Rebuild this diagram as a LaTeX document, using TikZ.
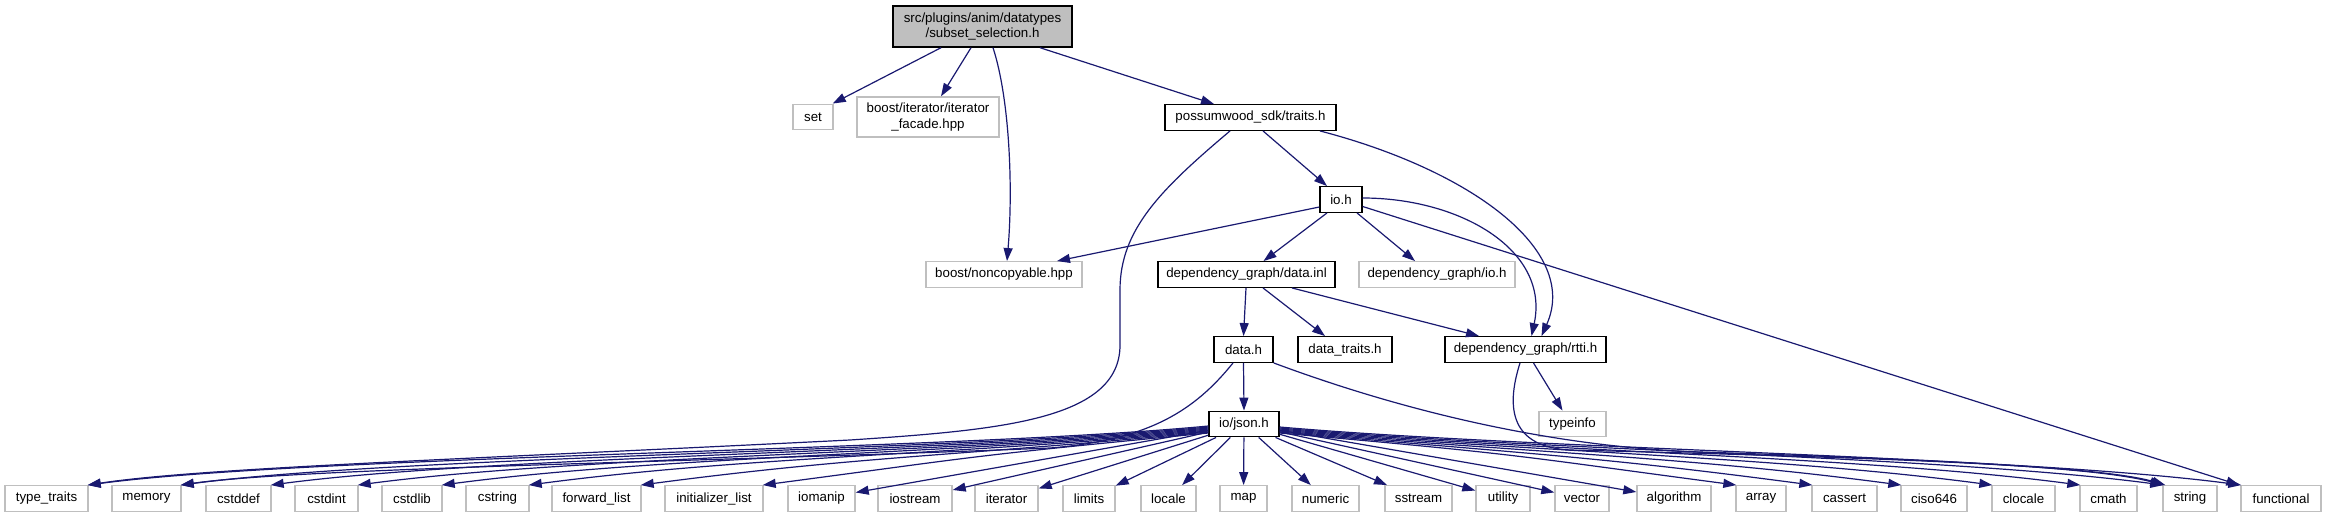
\documentclass[tikz,border=0pt]{standalone}
\usepackage{fontspec}
\setmainfont{Liberation Sans}
\usetikzlibrary{arrows.meta,calc}
\definecolor{edgecol}{HTML}{191970}
\definecolor{extgrey}{HTML}{BFBFBF}
\definecolor{maingrey}{HTML}{BFBFBF}
\newcommand{\nfont}{\fontsize{13.3pt}{15.5pt}\selectfont}
\tikzset{
  box/.style={draw=black, line width=1.4pt, fill=white, inner sep=0pt,
    minimum height=25.5pt, font=\nfont, align=center},
  extbox/.style={box, draw=extgrey},
  edge/.style={draw=edgecol, line width=1.2pt,
    -{Triangle[length=13pt,width=9pt]}},
}
\newcommand{\bnode}[4]{\node[extbox, minimum width=#3pt] (#1) at (#2,498.5) {#4};}
\newcommand{\jleft}[2]{\draw[edge] ([yshift=#2]json.west) .. controls +(-250,24) and +(220,-29) .. ([xshift=-1pt]#1.north east);}
\newcommand{\jright}[2]{\draw[edge] ([yshift=#2]json.east) .. controls +(250,22) and +(-220,-29) .. ([xshift=1pt]#1.north west);}
\begin{document}
\begin{tikzpicture}[x=1pt,y=-1pt]
\useasboundingbox (0,0) rectangle (2325,517);
% upper nodes
\node[box, fill=maingrey, minimum width=179pt, minimum height=41pt] (main) at (982.5,26.5) {src/plugins/anim/datatypes\\/subset\_selection.h};
\node[extbox, minimum width=40pt] (set) at (813,117) {set};
\node[extbox, minimum width=142pt, minimum height=40pt] (iterfac) at (928,117) {boost/iterator/iterator\\\_facade.hpp};
\node[box, minimum width=171pt] (possum) at (1250.5,117.5) {possumwood\_sdk/traits.h};
\node[box, minimum width=42pt] (ioh) at (1341,199.5) {io.h};
\node[extbox, minimum width=156pt] (noncopy) at (1004,274.5) {boost/noncopyable.hpp};
\node[box, minimum width=177pt] (datainl) at (1246.5,274.5) {dependency\_graph/data.inl};
\node[extbox, minimum width=156pt] (dgio) at (1437,274.5) {dependency\_graph/io.h};
\node[box, minimum width=59pt] (datah) at (1243.5,349.5) {data.h};
\node[box, minimum width=94pt] (dtraits) at (1345,349.5) {data\_traits.h};
\node[box, minimum width=161pt] (rtti) at (1525.5,349.5) {dependency\_graph/rtti.h};
\node[extbox, minimum width=67pt] (typeinfo) at (1572.5,424) {typeinfo};
\node[box, minimum width=70pt] (json) at (1244,424) {io/json.h};
% bottom row
\bnode{tt}{46.5}{83}{type\_traits}
\bnode{mem}{146.5}{69}{memory}
\bnode{cstddef}{238.5}{65}{cstddef}
\bnode{cstdint}{326.5}{63}{cstdint}
\bnode{cstdlib}{412}{60}{cstdlib}
\bnode{cstring}{497.5}{63}{cstring}
\bnode{fwdlist}{596.5}{89}{forward\_list}
\bnode{initlist}{714}{98}{initializer\_list}
\bnode{iomanip}{821.5}{67}{iomanip}
\bnode{iostream}{915}{74}{iostream}
\bnode{iterator}{1006.5}{63}{iterator}
\bnode{limits}{1089}{52}{limits}
\bnode{locale}{1168.5}{55}{locale}
\bnode{map}{1243.5}{47}{map}
\bnode{numeric}{1325.5}{67}{numeric}
\bnode{sstream}{1418.5}{67}{sstream}
\bnode{utility}{1503}{54}{utility}
\bnode{vector}{1582}{54}{vector}
\bnode{algorithm}{1674}{74}{algorithm}
\bnode{array}{1761}{50}{array}
\bnode{cassert}{1844.5}{65}{cassert}
\bnode{ciso}{1934}{66}{ciso646}
\bnode{clocale}{2023.5}{63}{clocale}
\bnode{cmath}{2108.5}{57}{cmath}
\bnode{string}{2190}{54}{string}
\bnode{functional}{2281}{80}{functional}
% edges from main
\draw[edge] ([xshift=-41.5pt]main.south) -- ([xshift=-1pt]set.north east);
\draw[edge] ([xshift=-11.5pt]main.south) -- ([xshift=13pt]iterfac.north);
\draw[edge] ([xshift=10.5pt]main.south) .. controls (1010,100) and (1013,190) .. ([xshift=3pt]noncopy.north);
\draw[edge] ([xshift=57.5pt]main.south) -- ([xshift=-36.5pt]possum.north);
% edges from possumwood
\draw[edge] ([xshift=12.5pt]possum.south) -- ([xshift=-14pt]ioh.north);
\draw[edge] ([xshift=-20.5pt]possum.south) .. controls (1160,190) and (1120,230) .. (1120,290) -- (1120,345) .. controls (1120,420) and (1000,430) .. (850,440) .. controls (450,460) and (200,468) .. ([xshift=-1pt]tt.north east);
\draw[edge] ([xshift=69.5pt]possum.south) .. controls (1470,170) and (1580,250) .. ([xshift=16pt]rtti.north);
% edges from io.h
\draw[edge] ([yshift=-7.5pt]ioh.west) -- ([xshift=53pt]noncopy.north);
\draw[edge] ([xshift=-14pt]ioh.south) -- ([xshift=17pt]datainl.north);
\draw[edge] ([xshift=16pt]ioh.south) -- ([xshift=-22pt]dgio.north);
\draw[edge] ([yshift=-7pt]ioh.east) -- ([xshift=-1pt]functional.north west);
\draw[edge] ([yshift=1.5pt]ioh.east) .. controls (1460,198) and (1550,250) .. ([xshift=6pt]rtti.north);
% edges from data.inl
\draw[edge] ([xshift=-0.5pt]datainl.south) -- (datah.north);
\draw[edge] ([xshift=16.5pt]datainl.south) -- ([xshift=-20pt]dtraits.north);
\draw[edge] ([xshift=45.5pt]datainl.south) -- ([xshift=-46.5pt]rtti.north);
% edges from data.h
\draw[edge] (datah.south) -- (json.north);
\draw[edge] ([xshift=-10.5pt]datah.south) .. controls (1195,410) and (1150,440) .. (1050,448) .. controls (700,462) and (300,468) .. ([xshift=-1pt]mem.north east);
\draw[edge] (datah.south east) .. controls (1400,410) and (1550,447) .. (1700,452) .. controls (1950,460) and (2100,468) .. ([xshift=1pt]string.north west);
% edges from rtti
\draw[edge] ([xshift=8pt]rtti.south) -- ([xshift=-10pt]typeinfo.north);
\draw[edge] ([xshift=-5.5pt]rtti.south) .. controls (1505,410) and (1512,447) .. (1570,450) .. controls (1900,458) and (2100,466) .. ([xshift=3pt]string.north west);
% edges from io/json.h
\jleft{tt}{-2pt}
\jleft{mem}{-3pt}
\jleft{cstddef}{-4pt}
\jleft{cstdint}{-5pt}
\jleft{cstdlib}{-6pt}
\jleft{cstring}{-7pt}
\jleft{fwdlist}{-8pt}
\jleft{initlist}{-9pt}
\draw[edge] (json) -- (iomanip);
\draw[edge] (json) -- (iostream);
\draw[edge] (json) -- (iterator);
\draw[edge] (json) -- (limits);
\draw[edge] (json) -- (locale);
\draw[edge] (json) -- (map);
\draw[edge] (json) -- (numeric);
\draw[edge] (json) -- (sstream);
\draw[edge] (json) -- (utility);
\draw[edge] (json) -- (vector);
\draw[edge] (json) -- (algorithm);
\jright{array}{-9pt}
\jright{cassert}{-8pt}
\jright{ciso}{-7pt}
\jright{clocale}{-6pt}
\jright{cmath}{-5pt}
\jright{string}{-4pt}
\jright{functional}{-3pt}
\end{tikzpicture}
\end{document}
